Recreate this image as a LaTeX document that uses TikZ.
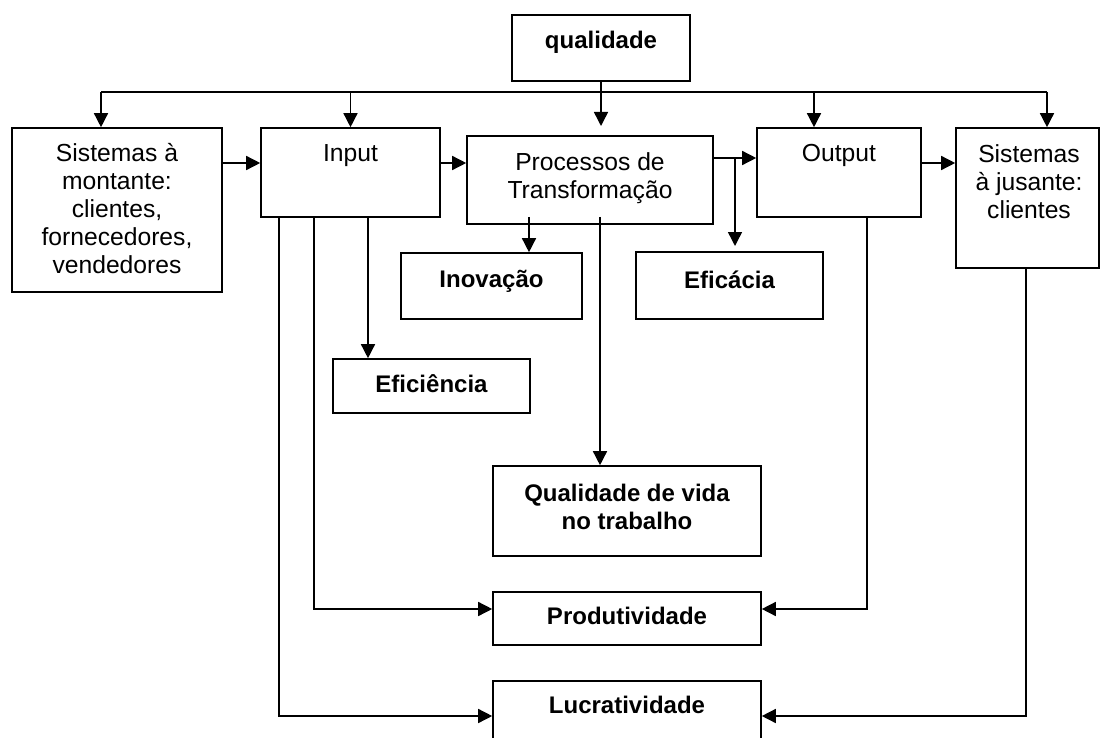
\documentclass[tikz,border=0pt]{standalone}
\usepackage{fontspec}
\setmainfont{Liberation Sans}
\usetikzlibrary{arrows.meta}
\begin{document}
\begin{tikzpicture}[x=0.75pt,y=-0.75pt,
  box/.style={draw, line width=1.2pt, inner sep=0pt, rectangle},
  bx/.style 2 args={box, minimum width=#1*0.75pt, minimum height=#2*0.75pt},
  txt/.style={anchor=north, inner sep=0pt, align=center, font=\fontsize{18.5}{21}\selectfont},
  btxt/.style={txt, font=\fontsize{18}{21}\selectfont\bfseries},
  ln/.style={line width=1.1pt},
  arr/.style={ln, -{Triangle[length=10.5pt,width=10.5pt]}}]
\useasboundingbox (0,0) rectangle (1103,738);
\clip (0,0) rectangle (1103,738);

% boxes
\node[bx={178}{66}]  (qual) at (601,48) {};
\node[bx={210}{164}] (mont) at (117,210) {};
\node[bx={179}{89}]  (inp)  at (350.5,172.5) {};
\node[bx={246}{88}]  (proc) at (590,180) {};
\node[bx={164}{89}]  (outp) at (839,172.5) {};
\node[bx={143}{140}] (jus)  at (1027.5,198) {};
\node[bx={181}{66}]  (inov) at (491.5,286) {};
\node[bx={187}{67}]  (efic) at (729.5,285.5) {};
\node[bx={197}{54}]  (efin) at (431.5,386) {};
\node[bx={268}{90}]  (qvt)  at (627,511) {};
\node[bx={268}{53}]  (prod) at (627,618.5) {};
\node[bx={268}{79}]  (lucr) at (627,720.5) {};

% texts
\node[btxt] (tqual) at (601,31) {qualidade};
\node[txt] (tmont) at (117,143) {Sistemas à\\montante:\\clientes,\\fornecedores,\\vendedores};
\node[txt] (tinp) at (350.5,144) {Input};
\node[txt] (tproc) at (590,152) {Processos de\\Transformação};
\node[txt] (toutp) at (839,144) {Output};
\node[txt] (tjus) at (1029,144) {Sistemas\\à jusante:\\clientes};
\node[btxt] (tinov) at (491.5,270) {Inovação};
\node[btxt] (tefic) at (729.5,271) {Eficácia};
\node[btxt] (tefin) at (431.5,374) {Eficiência};
\node[btxt] (tqvt) at (627,484) {Qualidade de vida\\no trabalho};
\node[btxt] (tprod) at (627,607) {Produtividade};
\node[btxt] (tlucr) at (627,696) {Lucratividade};

% helper coordinates
\coordinate (bus) at (0,92);
\coordinate (bL) at (101,92);
\coordinate (bR) at (1047,92);
\coordinate (hA) at (0,163);
\coordinate (hB) at (0,158);
\coordinate (hP) at (0,609);
\coordinate (hL) at (0,716);
\coordinate (pT) at (601,126);
\coordinate (oT) at (814,0);
\coordinate (vE) at (735,0);
\coordinate (eT) at (735,246);
\coordinate (vI) at (529,217);
\coordinate (vQ) at (600,217);
\coordinate (vF) at (368,0);
\coordinate (vP) at (314,0);
\coordinate (vL) at (279,0);
\coordinate (vO) at (867,0);
\coordinate (vJ) at (1026,0);

% top bus
\draw[ln] (bL) -- (bR);
\draw[ln] (qual.south) -- (qual.south |- bus);
\draw[arr] (bL) -- (bL |- mont.north);
\draw[arr] (bus -| inp.north) -- (inp.north);
\draw[arr] (qual.south |- bus) -- (pT);
\draw[arr] (bus -| oT) -- (oT |- outp.north);
\draw[arr] (bR) -- (bR |- jus.north);

% main chain
\draw[arr] (mont.east |- hA) -- (inp.west |- hA);
\draw[arr] (inp.east |- hA) -- (proc.west |- hA);
\draw[arr] (proc.east |- hB) -- (outp.west |- hB);
\draw[arr] (vE |- hB) -- (eT);
\draw[arr] (outp.east |- hA) -- (jus.west |- hA);

% branches
\draw[arr] (vI) -- (vI |- inov.north);
\draw[arr] (vQ) -- (vQ |- qvt.north);
\draw[arr] (vF |- inp.south) -- (vF |- efin.north);
\draw[arr] (vP |- inp.south) -- (vP |- hP) -- (prod.west |- hP);
\draw[arr] (vL |- inp.south) -- (vL |- hL) -- (lucr.west |- hL);
\draw[arr] (vO |- outp.south) -- (vO |- hP) -- (prod.east |- hP);
\draw[arr] (vJ |- jus.south) -- (vJ |- hL) -- (lucr.east |- hL);
\end{tikzpicture}
\end{document}
